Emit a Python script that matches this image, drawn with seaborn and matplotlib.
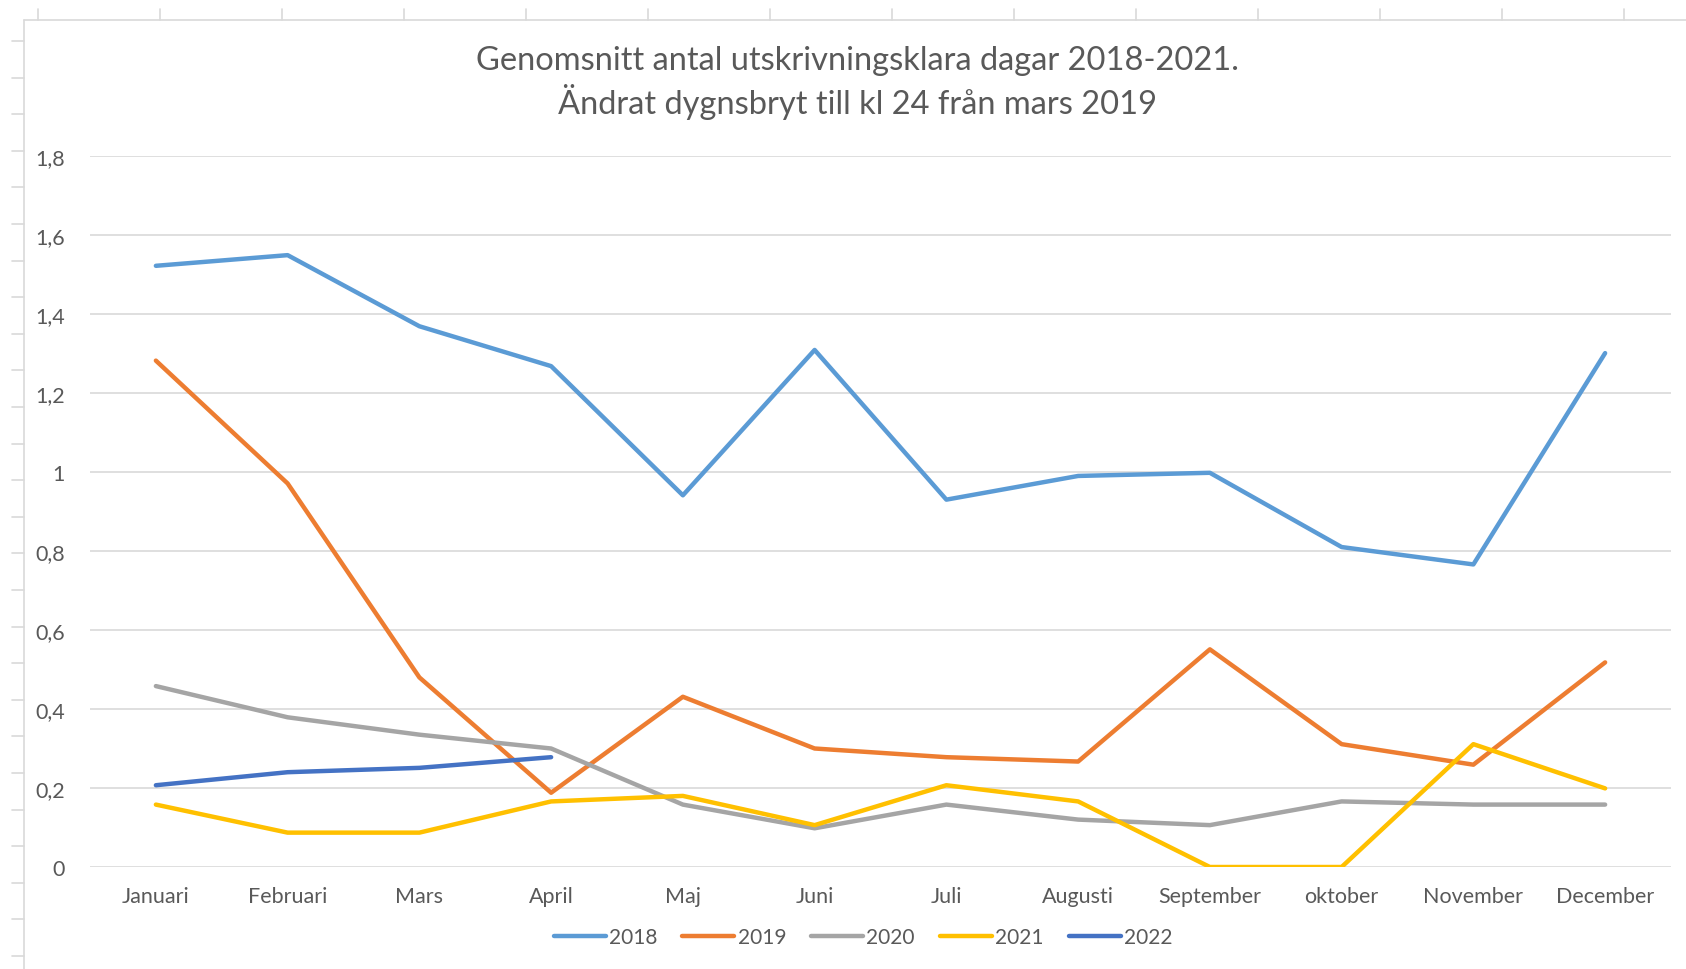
import matplotlib
matplotlib.use("Agg")
import matplotlib.pyplot as plt
import seaborn as sns
import pandas as pd
from matplotlib.lines import Line2D

months = ["Januari", "Februari", "Mars", "April", "Maj", "Juni", "Juli",
          "Augusti", "September", "oktober", "November", "December"]
v2018 = [1.522, 1.549, 1.369, 1.268, 0.941, 1.309, 0.930, 0.990, 0.998, 0.810, 0.766, 1.301]
v2019 = [1.282, 0.971, 0.480, 0.188, 0.431, 0.300, 0.278, 0.267, 0.551, 0.311, 0.259, 0.518]
v2020 = [0.458, 0.379, 0.335, 0.300, 0.158, 0.098, 0.158, 0.120, 0.106, 0.166, 0.158, 0.158]
v2021 = [0.158, 0.087, 0.087, 0.166, 0.180, 0.106, 0.207, 0.166, 0.0, 0.0, 0.311, 0.199]
v2022 = [0.207, 0.240, 0.251, 0.278]
years = ["2018", "2019", "2020", "2021", "2022"]
colors = ["#5B9BD5", "#ED7D31", "#A5A5A5", "#FFC000", "#4472C4"]
yticks = [0, 0.2, 0.4, 0.6, 0.8, 1.0, 1.2, 1.4, 1.6, 1.8]
ytick_labels = ["0", "0,2", "0,4", "0,6", "0,8", "1", "1,2", "1,4", "1,6", "1,8"]
title = "Genomsnitt antal utskrivningsklara dagar 2018-2021.\nÄndrat dygnsbryt till kl 24 från mars 2019"

series = [v2018, v2019, v2020, v2021, v2022]
rows = []
for y, vals in zip(years, series):
    for m, v in zip(months, vals):
        rows.append({"month": m, "value": v, "year": y})
df = pd.DataFrame(rows)
df["month"] = pd.Categorical(df["month"], categories=months, ordered=True)
df["mi"] = df["month"].cat.codes

sns.set_theme(style="white")
plt.rcParams["font.family"] = ["Lato", "DejaVu Sans"]

W, H = 1686, 970
fig = plt.figure(figsize=(W / 100, H / 100), dpi=100)
ax = fig.add_axes([90 / W, 1 - 868 / H, (1671 - 90) / W, (868 - 157) / H])

sns.lineplot(data=df, x="mi", y="value", hue="year", hue_order=years,
             palette=colors, linewidth=3.2, ax=ax, legend=False, sort=False)

ax.set_xlim(-0.5, 11.5)
ax.set_ylim(0, 1.8)
ax.set_xticks(range(len(months)))
ax.set_xticklabels(months)
ax.set_yticks(yticks)
ax.set_yticklabels(ytick_labels)
ax.set_xlabel("")
ax.set_ylabel("")
ax.grid(axis="y", color="#D9D9D9", linewidth=1.2)
ax.set_axisbelow(True)
for s in ax.spines.values():
    s.set_visible(False)
ax.tick_params(axis="both", length=0, colors="#595959", labelsize=15.5)
ax.tick_params(axis="x", pad=14)
ax.tick_params(axis="y", pad=18)

fig.text(857 / W, 1 - 83 / H, title, ha="center", va="center",
         fontsize=23.5, color="#595959", linespacing=1.3)

handles = [Line2D([0], [0], color=c, linewidth=3.2) for c in colors]
fig.legend(handles, years, loc="center", bbox_to_anchor=(863 / W, 1 - 938 / H),
           ncol=5, frameon=False, fontsize=15, handlelength=2.5,
           handletextpad=0.15, columnspacing=1.2, labelcolor="#595959")

# Excel sheet chart-area border and cell markers
gc = "#D9D9D9"
fig.add_artist(Line2D([24 / W, 24 / W], [1 - 21 / H, 0], color=gc, linewidth=1.2))
fig.add_artist(Line2D([24 / W, 1], [1 - 21 / H, 1 - 21 / H], color=gc, linewidth=1.2))
x = 38
while x < W:
    fig.add_artist(Line2D([x / W, x / W], [1 - 10 / H, 1 - 21 / H], color=gc, linewidth=1.2))
    x += 122
yy = 42
while yy < H:
    fig.add_artist(Line2D([12 / W, 24 / W], [1 - yy / H, 1 - yy / H], color=gc, linewidth=1.2))
    yy += 36.6

fig.savefig("out.png", dpi=100, facecolor="white")
